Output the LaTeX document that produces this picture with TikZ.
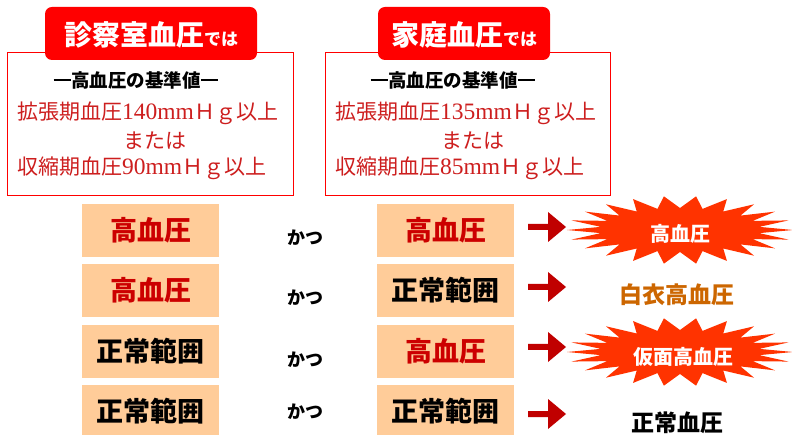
\documentclass[tikz,border=0pt]{standalone}
\usepackage{fontspec}
\setmainfont{Liberation Serif}
\newfontfamily\jp{Noto Sans CJK JP}
\definecolor{tabred}{HTML}{FF0000}
\definecolor{txtred}{RGB}{205,30,30}
\definecolor{boxred}{HTML}{CC0000}
\definecolor{peach}{HTML}{FFCC99}
\definecolor{burstc}{HTML}{FF3300}
\definecolor{arrowc}{HTML}{C00000}
\definecolor{whitecoat}{HTML}{CC6600}
\tikzset{
  tabbox/.style={fill=tabred, rounded corners=7pt},
  critbox/.style={draw=tabred, line width=1.4pt, fill=white},
  tabtext/.style={text=white, font=\jp\bfseries, inner sep=0pt},
  headtext/.style={font=\jp\bfseries\fontsize{18.5}{18.5}\selectfont, inner sep=0pt},
  redline/.style={text=txtred, font=\jp\fontsize{21}{21}\selectfont, inner sep=0pt, anchor=west},
  redmid/.style={text=txtred, font=\jp\fontsize{21}{21}\selectfont, inner sep=0pt},
  pbox/.style={fill=peach, minimum width=137pt, minimum height=53pt, inner sep=0pt, font=\jp\bfseries\fontsize{27}{27}\selectfont},
  hi/.style={text=boxred},
  andtext/.style={font=\jp\bfseries\fontsize{18}{18}\selectfont, inner sep=0pt},
  resulttext/.style={font=\jp\bfseries\fontsize{23}{23}\selectfont, inner sep=0pt},
  bursttext/.style={font=\jp\bfseries\fontsize{20}{20}\selectfont, text=white, inner sep=0pt},
}
\newcommand{\num}[1]{{\rmfamily\fontsize{23.5}{23.5}\selectfont #1}}
\newcommand{\headbar}{\rule[0.33em]{0.95em}{2.3pt}}
\newcommand{\blockarrow}[2]{%
  \fill[arrowc] (#1,#2) ++(0,-3) -- ++(20,0) -- ++(0,-12) -- ++(18,15) -- ++(-18,15) -- ++(0,-12) -- ++(-20,0) -- cycle;}
\newcommand{\burst}[2]{%
  \fill[burstc] plot[samples at={0,...,43}]
    ({#1+ifthenelse(mod(\x,2)==0,113,80)*cos(\x*360/44)},
     {#2+ifthenelse(mod(\x,2)==0,34,22)*sin(\x*360/44)}) -- cycle;}
\begin{document}
\begin{tikzpicture}[x=1pt,y=-1pt]
\useasboundingbox (0,0) rectangle (792,435);
% criteria boxes
\node[critbox, minimum width=286pt, minimum height=143pt, anchor=north west] (lbox) at (7,52) {};
\node[critbox, minimum width=285pt, minimum height=143pt, anchor=north west] (rbox) at (325,52) {};
\fill[tabbox] (45,7) rectangle (257,60);
\fill[tabbox] (378,7) rectangle (550,60);
\node[tabtext] (ltab) at (151,35) {{\fontsize{28}{28}\selectfont 診察室血圧}{\fontsize{17}{17}\selectfont では}};
\node[tabtext] (rtab) at (464,35) {{\fontsize{28}{28}\selectfont 家庭血圧}{\fontsize{17}{17}\selectfont では}};
% left criteria text
\node[headtext] (lhead) at (136,80) {\headbar 高血圧の基準値\headbar};
\node[redline] (l1) at (17,113) {拡張期血圧\num{140mm}Ｈｇ以上};
\node[redmid] (l2) at (155,141) {または};
\node[redline] (l3) at (17,168) {収縮期血圧\num{90mm}Ｈｇ以上};
% right criteria text
\node[headtext] (rhead) at (453,80) {\headbar 高血圧の基準値\headbar};
\node[redline] (r1) at (335,113) {拡張期血圧\num{135mm}Ｈｇ以上};
\node[redmid] (r2) at (473,141) {または};
\node[redline] (r3) at (335,168) {収縮期血圧\num{85mm}Ｈｇ以上};
% rows
\node[pbox, hi] (a1) at (150.5,230.5) {高血圧};
\node[pbox, hi] (b1) at (445.5,230.5) {高血圧};
\node[pbox, hi] (a2) at (150.5,290.5) {高血圧};
\node[pbox] (b2) at (445.5,290.5) {正常範囲};
\node[pbox] (a3) at (150.5,351.5) {正常範囲};
\node[pbox, hi] (b3) at (445.5,351.5) {高血圧};
\node[pbox, minimum height=52pt] (a4) at (150.5,411) {正常範囲};
\node[pbox, minimum height=52pt] (b4) at (445.5,411) {正常範囲};
\node[andtext] (k1) at (305,238) {かつ};
\node[andtext] (k2) at (305,298) {かつ};
\node[andtext] (k3) at (305,360) {かつ};
\node[andtext] (k4) at (305,412) {かつ};
% arrows
\blockarrow{528}{227}
\blockarrow{528}{287}
\blockarrow{528}{347}
\blockarrow{528}{414}
% results
\burst{680}{230}
\node[bursttext] (res1) at (680,234) {高血圧};
\node[resulttext, text=whitecoat] (res2) at (677,295) {白衣高血圧};
\burst{680}{352}
\node[bursttext] (res3) at (683,357) {仮面高血圧};
\node[resulttext] (res4) at (677,423) {正常血圧};
\end{tikzpicture}
\end{document}
